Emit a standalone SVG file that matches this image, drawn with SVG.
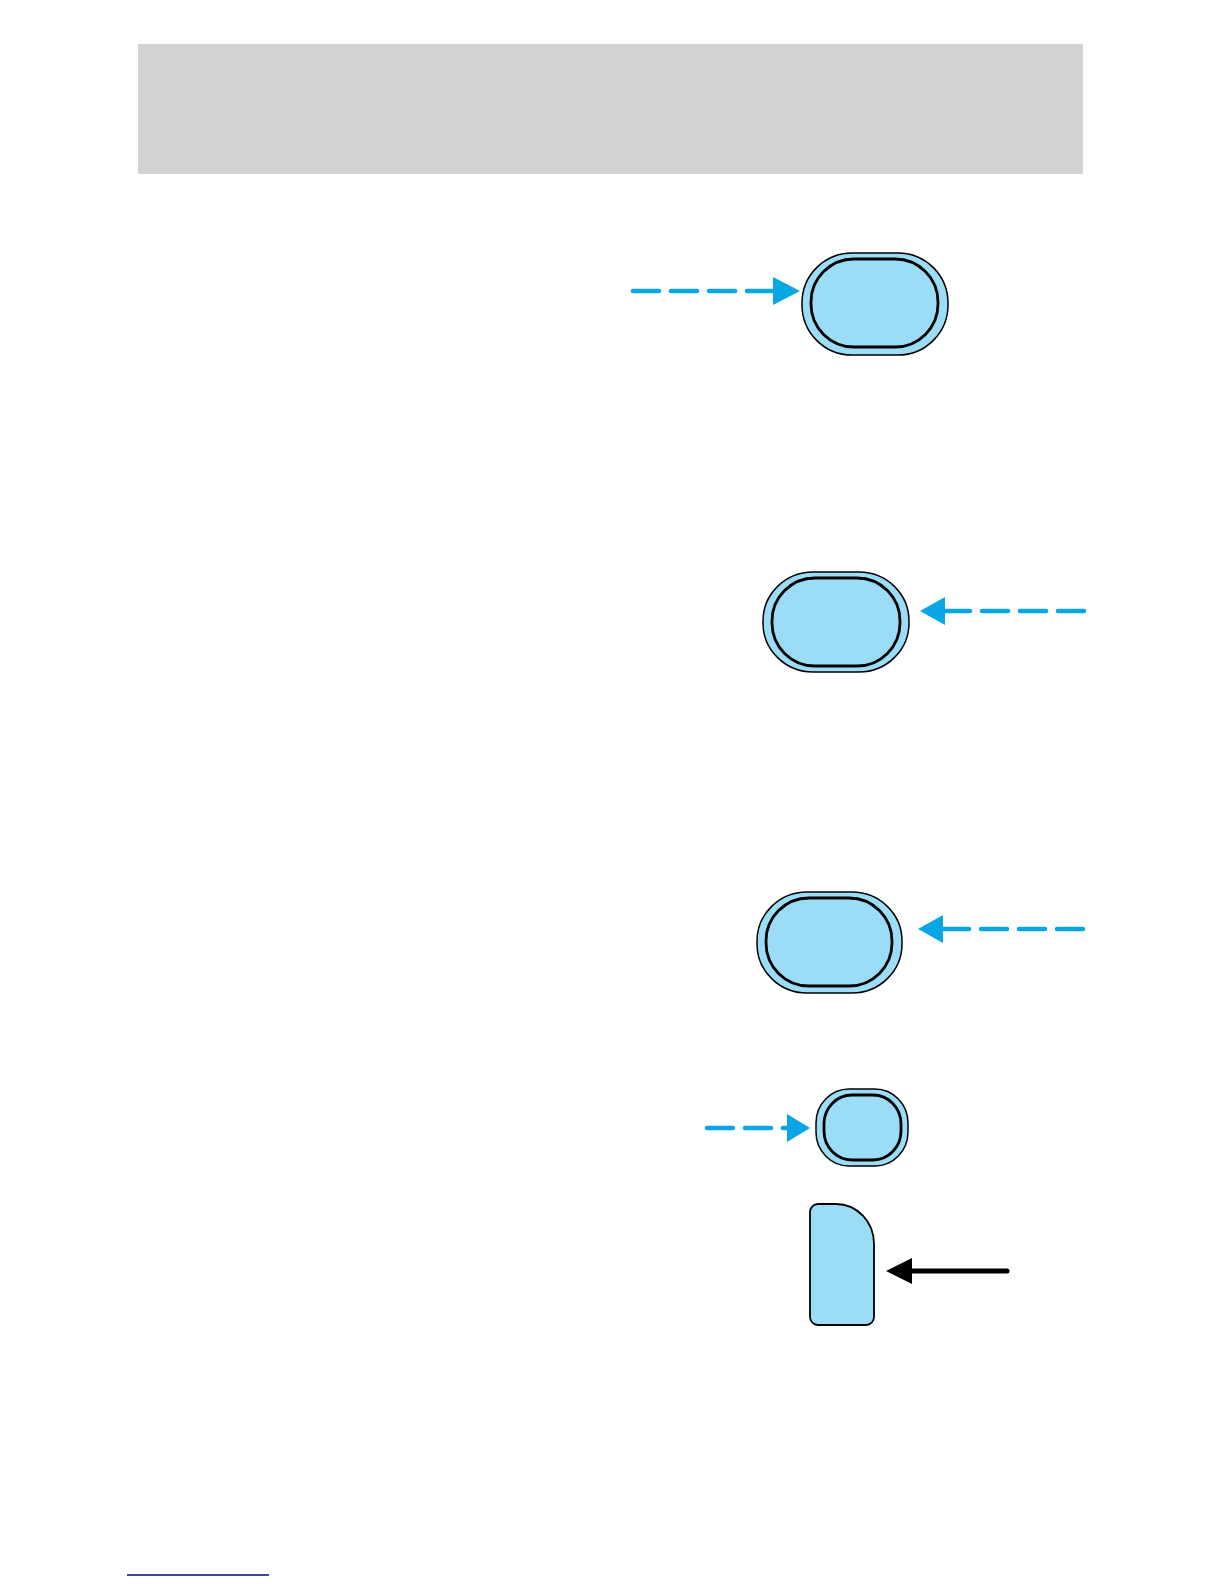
<svg xmlns="http://www.w3.org/2000/svg" width="1224" height="1584" viewBox="0 0 1224 1584">
<style>
.outer{fill:#9bddf6;stroke:#000;stroke-width:1.5}
.inner{fill:#9bddf6;stroke:#000;stroke-width:2.8}
.dash{fill:none;stroke:#08a6e4;stroke-width:4.5;stroke-linecap:round;stroke-dasharray:26 12}
.head{fill:#08a6e4}
</style>
<rect width="1224" height="1584" fill="#fff"/>
<rect x="138" y="44" width="945" height="130" fill="#d3d3d3"/>
<g id="node1">
<rect class="outer" x="802" y="253" width="146" height="102" rx="50" ry="50"/>
<rect class="inner" x="811" y="259" width="127" height="88" rx="43" ry="43"/>
</g>
<g id="node2">
<rect class="outer" x="763" y="572" width="146" height="100" rx="50" ry="49"/>
<rect class="inner" x="772" y="578" width="128" height="88" rx="43" ry="43"/>
</g>
<g id="node3">
<rect class="outer" x="757" y="892" width="145" height="101" rx="50" ry="49"/>
<rect class="inner" x="766" y="898" width="126" height="88" rx="43" ry="43"/>
</g>
<g id="node4">
<rect class="outer" x="816" y="1089" width="92" height="77" rx="33" ry="34"/>
<rect class="inner" x="824" y="1095" width="77" height="65" rx="28" ry="29"/>
</g>
<g id="node5">
<path d="M818 1204 H836 A38 40 0 0 1 874 1244 V1317 A8 8 0 0 1 866 1325 H818 A8 8 0 0 1 810 1317 V1212 A8 8 0 0 1 818 1204 Z" fill="#9bddf6" stroke="#000" stroke-width="1.8"/>
</g>
<g id="connectors">
<line class="dash" x1="633" y1="291" x2="775" y2="291"/>
<polygon class="head" points="800,291 773,277 773,305"/>
<line class="dash" x1="1084" y1="611" x2="940" y2="611"/>
<polygon class="head" points="920,611 945,597 945,625"/>
<line class="dash" x1="1083" y1="929" x2="940" y2="929"/>
<polygon class="head" points="918,929 943,915 943,943"/>
<line class="dash" x1="707" y1="1128" x2="790" y2="1128"/>
<polygon class="head" points="810,1128 787,1114 787,1142"/>
<line x1="1007" y1="1271" x2="905" y2="1271" stroke="#000" stroke-width="5" stroke-linecap="round"/>
<polygon points="886,1271 912,1258 912,1284" fill="#000"/>
</g>
<line x1="127" y1="1575" x2="269" y2="1575" stroke="#0a0a78" stroke-width="1.6"/>
</svg>
